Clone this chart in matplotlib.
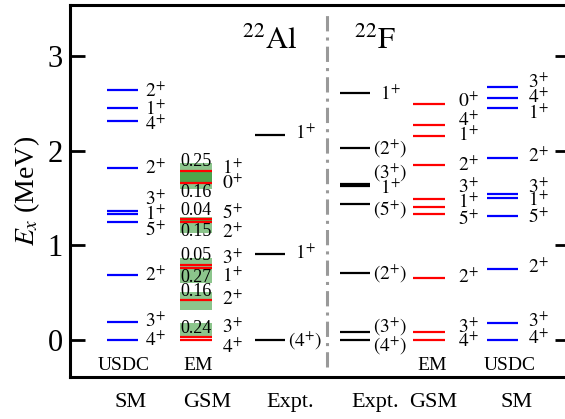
import matplotlib
matplotlib.use('Agg')
import matplotlib.pyplot as plt

plt.rcParams['font.family'] = ['Liberation Serif', 'DejaVu Serif']
plt.rcParams['mathtext.fontset'] = 'stix'

# ---------------- data (energies in MeV) ----------------
al_sm_E = [2.65, 2.46, 2.32, 1.82, 1.365, 1.33, 1.245, 0.69, 0.19, 0.0]
al_sm_J = ['2+', '1+', '4+', '2+', '3+', '1+', '5+', '2+', '3+', '4+']

al_gsm_E = [1.79, 1.66, 1.277, 1.249, 0.794, 0.759, 0.423, 0.03, 0.0]
al_gsm_J = ['1+', '0+', '5+', '2+', '3+', '1+', '2+', '3+', '4+']
al_gsm_width = ['0.25', '0.16', '0.04', '0.15', '0.05', '0.27', '0.16', '0.24', '']
al_gsm_band_lo = [1.675, 1.60, 1.255, 1.13, 0.785, 0.60, 0.32, 0.045, 0.0]
al_gsm_band_hi = [1.873, 1.78, 1.305, 1.27, 0.87, 0.785, 0.51, 0.18, 0.0]

al_exp_E = [2.17, 0.915, 0.0]
al_exp_J = ['1+', '1+', '(4+)']

f_exp_E = [2.61, 2.03, 1.65, 1.63, 1.434, 0.709, 0.08, 0.0]
f_exp_J = ['1+', '(2+)', '(3+)', '1+', '(5+)', '(2+)', '(3+)', '(4+)']

f_gsm_E = [2.50, 2.275, 2.16, 1.85, 1.49, 1.41, 1.33, 0.66, 0.088, 0.0]
f_gsm_J = ['0+', '4+', '1+', '2+', '3+', '1+', '5+', '2+', '3+', '4+']

f_sm_E = [2.68, 2.565, 2.45, 1.93, 1.54, 1.505, 1.315, 0.75, 0.177, 0.0]
f_sm_J = ['3+', '4+', '1+', '2+', '3+', '1+', '5+', '2+', '3+', '4+']

yticks = [0, 1, 2, 3]

# ---------------- layout (label placement) ----------------
al_sm_lab = [2.64, 2.45, 2.29, 1.82, 1.50, 1.34, 1.17, 0.69, 0.21, 0.0]
al_gsm_lab = [1.82, 1.67, 1.35, 1.15, 0.87, 0.68, 0.44, 0.14, -0.07]
al_gsm_wpos = ['u', 'd', 'u', 'd', 'u', 'd', 'u', 'u', '']
al_exp_lab = [2.20, 0.92, 0.0]
f_exp_lab = [2.61, 2.03, 1.78, 1.61, 1.39, 0.71, 0.15, -0.05]
f_gsm_lab = [2.53, 2.33, 2.17, 1.86, 1.62, 1.46, 1.28, 0.67, 0.14, -0.01]
f_sm_lab = [2.73, 2.58, 2.41, 1.95, 1.62, 1.49, 1.31, 0.78, 0.20, 0.02]

W, H, DPI = 5.65, 4.19, 100
fig = plt.figure(figsize=(W, H), dpi=DPI)
ax = fig.add_axes([70 / 565, 42 / 419, 500 / 565, 372 / 419])
ax.set_xlim(0, 500)
ax.set_ylim(-0.392, 3.545)

LW = 1.6
JFS = 14


def jlabel(j):
    if j.startswith('('):
        return r'$(%s^{+})$' % j[1]
    return r'$%s^{+}$' % j[0]


def baseline(e):
    # convert a digit-centre energy into a text baseline energy
    return e - 0.068


def column(E, J, labE, x0, x1, color, lx, ha='left'):
    ax.hlines(E, x0, x1, colors=color, lw=LW)
    for j, e in zip(J, labE):
        ax.text(lx, baseline(e), jlabel(j), fontsize=JFS, ha=ha, va='baseline')


# Al SM
column(al_sm_E, al_sm_J, al_sm_lab, 37, 68, 'blue', 75)

# Al GSM with widths
gx0, gx1 = 110, 142
gc = 0.5 * (gx0 + gx1)
for lo, hi in zip(al_gsm_band_lo, al_gsm_band_hi):
    if hi > lo:
        ax.bar(gc, hi - lo, bottom=lo, width=gx1 - gx0, color=(0, 0.5, 0),
               alpha=0.45, linewidth=0)
column(al_gsm_E, al_gsm_J, al_gsm_lab, gx0, gx1, 'red', 152)
for e, w, p in zip(al_gsm_E, al_gsm_width, al_gsm_wpos):
    if not w:
        continue
    if p == 'u':
        ax.text(gc, e + 0.005, w, fontsize=13, ha='center', va='bottom')
    else:
        ax.text(gc, e - 0.01, w, fontsize=13, ha='center', va='top')

# Al Expt
column(al_exp_E, al_exp_J, al_exp_lab, 185, 215, 'black', 235, ha='center')

# divider
ax.plot([257, 257], [-0.29, 3.48], color='#999999', lw=2.2,
        linestyle=(0, (5, 2, 1, 2)))

# F Expt
column(f_exp_E, f_exp_J, f_exp_lab, 270, 300, 'black', 320, ha='center')
# F GSM
column(f_gsm_E, f_gsm_J, f_gsm_lab, 343, 375, 'red', 388)
# F SM
column(f_sm_E, f_sm_J, f_sm_lab, 417, 448, 'blue', 458)

# nucleus titles
ax.text(200, 3.08, r'$^{22}\mathrm{Al}$', fontsize=22, ha='center', va='baseline')
ax.text(305, 3.08, r'$^{22}\mathrm{F}$', fontsize=22, ha='center', va='baseline')

# inner column labels
for x, s in [(54, 'USDC'), (128, 'EM'), (362, 'EM'), (440, 'USDC')]:
    ax.text(x, -0.265, s, fontsize=14, ha='center', va='center')

# below-axis labels
for x, s in [(61, 'SM'), (137, 'GSM'), (220, 'Expt.'), (305, 'Expt.'),
             (363, 'GSM'), (447, 'SM')]:
    ax.text(x, -0.667, s, fontsize=16, ha='center', va='center', clip_on=False)

# axes styling
for sp in ax.spines.values():
    sp.set_linewidth(2.2)
ax.set_xticks([])
ax.set_yticks(yticks)
ax.set_yticklabels([str(t) for t in yticks])
ax.tick_params(axis='y', direction='in', length=11, width=2, labelsize=22,
               pad=5, left=True, right=True)
ax.set_ylabel(r'$E_x$ (MeV)', fontsize=20, labelpad=4)

fig.savefig('out.png', dpi=DPI)
